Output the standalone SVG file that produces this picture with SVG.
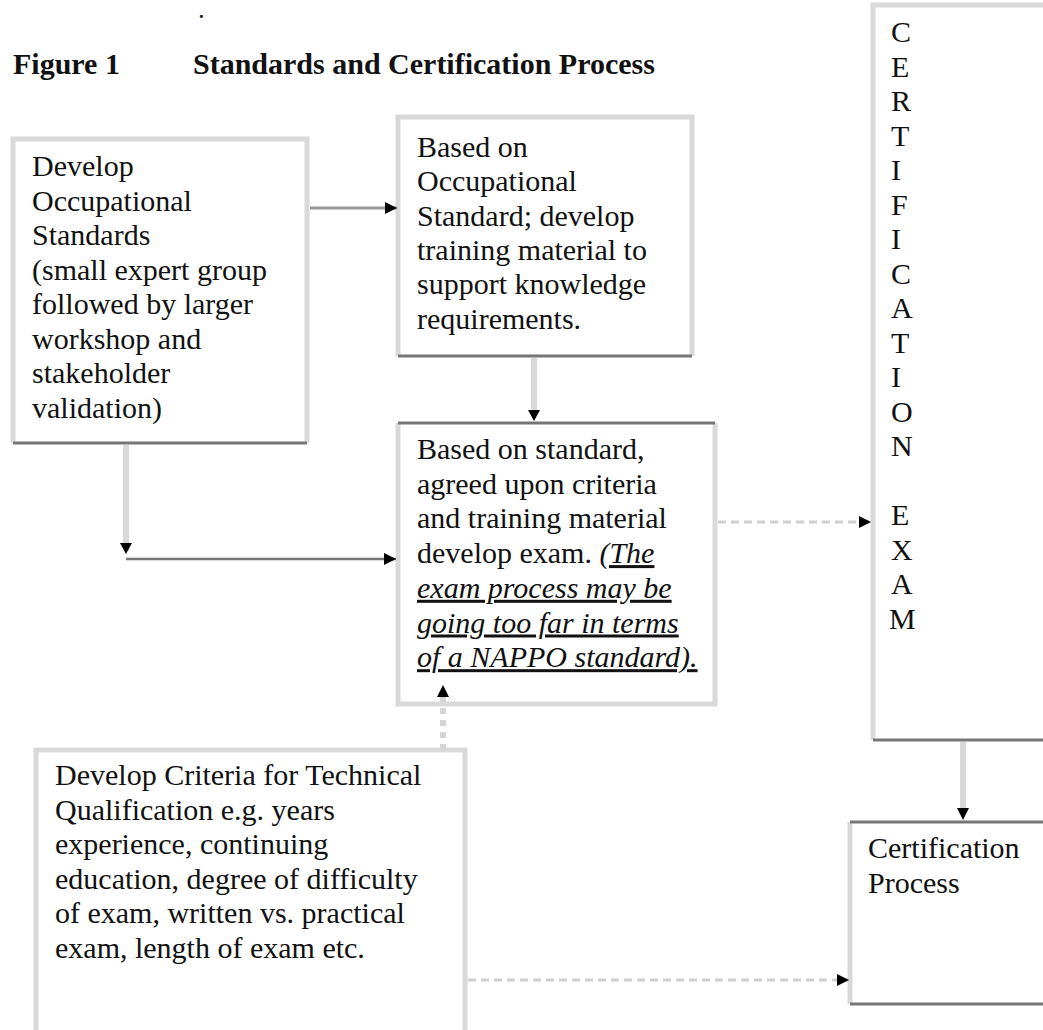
<svg xmlns="http://www.w3.org/2000/svg" width="1043" height="1030" viewBox="0 0 1043 1030">
<defs>
<style>
text{font-family:"Liberation Serif","Times New Roman",serif;font-size:30px;fill:#111}
.title{font-weight:bold}
.dot{font-weight:bold;font-size:19px}
.lt{stroke:#d9d9d9;stroke-width:5;fill:none}
.dk{stroke:#767676;stroke-width:3;fill:none}
.bg{fill:#ffffff;stroke:none}
.it{font-style:italic;text-decoration:underline}
.c-lt{stroke:#d9d9d9;stroke-width:6;fill:none}
.c-md{stroke:#999999;stroke-width:3;fill:none}
.c-dk{stroke:#767676;stroke-width:2.5;fill:none}
.c-dash{stroke:#cfcfcf;stroke-width:3;fill:none;stroke-dasharray:8 5}
.c-dot{stroke:#d5d5d5;stroke-width:6;fill:none;stroke-dasharray:6 6}
</style>
<marker id="ah" markerUnits="userSpaceOnUse" markerWidth="14" markerHeight="14" refX="12" refY="7" orient="auto">
<path d="M0,1 L12,7 L0,13 Z" fill="#000"/>
</marker>
</defs>
<rect width="1043" height="1030" fill="#ffffff"/>

<g id="title">
<text x="199" y="18" class="dot">.</text>
<text x="13" y="74" class="title">Figure 1</text>
<text x="193" y="74" class="title">Standards and Certification Process</text>
</g>

<g id="node-develop-standards">
<rect class="bg" x="13" y="139" width="294" height="304"/>
<path class="lt" d="M13,443 V139 H307 V443"/>
<path class="dk" d="M13,443 H307"/>
<text x="32" y="176">Develop</text>
<text x="32" y="210.5">Occupational</text>
<text x="32" y="245">Standards</text>
<text x="32" y="279.5">(small expert group</text>
<text x="32" y="314">followed by larger</text>
<text x="32" y="348.5">workshop and</text>
<text x="32" y="383">stakeholder</text>
<text x="32" y="417.5">validation)</text>
</g>

<g id="node-training-material">
<rect class="bg" x="398" y="117" width="294" height="239"/>
<path class="lt" d="M398,356 V117 H692 V356"/>
<path class="dk" d="M398,356 H692"/>
<text x="417" y="157">Based on</text>
<text x="417" y="191.3">Occupational</text>
<text x="417" y="225.6">Standard; develop</text>
<text x="417" y="259.9">training material to</text>
<text x="417" y="294.2">support knowledge</text>
<text x="417" y="328.5">requirements.</text>
</g>

<g id="node-develop-exam">
<rect class="bg" x="398" y="423" width="317" height="281"/>
<path class="lt" d="M398,423 V704 H715 V423"/>
<path class="dk" d="M398,423 H715"/>
<text x="417" y="459">Based on standard,</text>
<text x="417" y="493.7">agreed upon criteria</text>
<text x="417" y="528.4">and training material</text>
<text x="417" y="563.1">develop exam. <tspan class="it">(The</tspan></text>
<text x="417" y="597.8" class="it">exam process may be</text>
<text x="417" y="632.5" class="it">going too far in terms</text>
<text x="417" y="667.2" class="it">of a NAPPO standard).</text>
</g>

<g id="node-criteria">
<rect class="bg" x="36" y="750" width="429" height="290"/>
<path class="lt" d="M36,1040 V750 H465 V1040"/>
<text x="55" y="785">Develop Criteria for Technical</text>
<text x="55" y="819.6">Qualification e.g. years</text>
<text x="55" y="854.2">experience, continuing</text>
<text x="55" y="888.8">education, degree of difficulty</text>
<text x="55" y="923.4">of exam, written vs. practical</text>
<text x="55" y="958">exam, length of exam etc.</text>
</g>

<g id="node-certification-exam">
<rect class="bg" x="873" y="5" width="180" height="735"/>
<path class="lt" d="M873,740 V5 H1050"/>
<path class="dk" d="M873,740 H1050"/>
<text x="891" y="42">C</text>
<text x="891" y="76.5">E</text>
<text x="891" y="111">R</text>
<text x="891" y="145.5">T</text>
<text x="891" y="180">I</text>
<text x="891" y="214.5">F</text>
<text x="891" y="249">I</text>
<text x="891" y="283.5">C</text>
<text x="891" y="318">A</text>
<text x="891" y="352.5">T</text>
<text x="891" y="387">I</text>
<text x="891" y="421.5">O</text>
<text x="891" y="456">N</text>
<text x="891" y="525">E</text>
<text x="891" y="559.5">X</text>
<text x="891" y="594">A</text>
<text x="889" y="628.5">M</text>
</g>

<g id="node-certification-process">
<rect class="bg" x="850" y="822" width="200" height="182"/>
<path class="lt" d="M850,1004 V822"/>
<path class="dk" d="M850,822 H1050 M850,1004 H1050"/>
<text x="868" y="858">Certification</text>
<text x="868" y="893">Process</text>
</g>

<g id="connectors">
<path class="c-md" d="M310,208 H397" marker-end="url(#ah)"/>
<path class="c-lt" d="M534,358 V410"/>
<path class="c-lt" d="M126,445 V545"/>
<path class="c-dk" d="M126,559 H396" marker-end="url(#ah)"/>
<path class="c-dash" d="M718,522 H871" marker-end="url(#ah)"/>
<path class="c-dot" d="M443,750 V695"/>
<path class="c-dash" d="M468,980 H849" marker-end="url(#ah)"/>
<path class="c-lt" d="M963,742 V808"/>
<g fill="#000">
<polygon points="528,410 540,410 534,421"/>
<polygon points="120,543 132,543 126,554"/>
<polygon points="437,697 449,697 443,685"/>
<polygon points="957,808 969,808 963,820"/>
</g>
</g>
</svg>
